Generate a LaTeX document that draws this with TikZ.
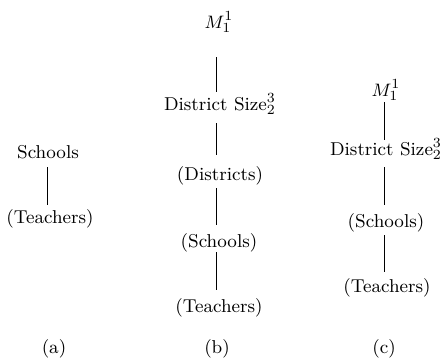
\documentclass[tikz,border=0pt]{standalone}
\begin{document}
\begin{tikzpicture}[x=0.5pt,y=-0.5pt,
  lbl/.style={anchor=base,inner sep=0pt,text height=7pt,text depth=2.3pt,font=\fontsize{9.3}{11}\selectfont},
  link/.style={line width=0.45pt}]
\useasboundingbox (0,0) rectangle (448,359);
% (a)
\node[lbl] (a1) at (48,158) {Schools};
\node[lbl] (a2) at (50,223) {(Teachers)};
\node[lbl] (al) at (54,353) {(a)};
\draw[link,shorten <=2.2pt,shorten >=2pt] (a1.south -| 47,0) -- (a2.north -| 47,0);
% (b)
\node[lbl] (b1) at (219,28) {$M_1^1$};
\node[lbl] (b2) at (220,110) {District Size$_2^3$};
\node[lbl] (b3) at (220,180) {(Districts)};
\node[lbl] (b4) at (219,247) {(Schools)};
\node[lbl] (b5) at (219,312) {(Teachers)};
\node[lbl] (bl) at (217,353) {(b)};
\draw[link,shorten <=12.2pt,shorten >=2pt] (b1.south -| 216.5,0) -- (b2.north -| 216.5,0);
\draw[link,shorten <=4.2pt,shorten >=5.5pt] (b2.south -| 216.5,0) -- (b3.north -| 216.5,0);
\draw[link,shorten <=1.7pt,shorten >=4pt] (b3.south -| 216.5,0) -- (b4.north -| 216.5,0);
\draw[link,shorten <=0.2pt,shorten >=4pt] (b4.south -| 216.5,0) -- (b5.north -| 216.5,0);
% (c)
\node[lbl] (c1) at (386,96) {$M_1^1$};
\node[lbl] (c2) at (386,155) {District Size$_2^3$};
\node[lbl] (c3) at (386,227) {(Schools)};
\node[lbl] (c4) at (387,292) {(Teachers)};
\node[lbl] (cl) at (384,353) {(c)};
\draw[link,shorten <=0.7pt,shorten >=0.5pt] (c1.south -| 384,0) -- (c2.north -| 384,0);
\draw[link,shorten <=3.7pt,shorten >=4pt] (c2.south -| 384,0) -- (c3.north -| 384,0);
\draw[link,shorten <=1.7pt,shorten >=3pt] (c3.south -| 384,0) -- (c4.north -| 384,0);
\end{tikzpicture}
\end{document}
